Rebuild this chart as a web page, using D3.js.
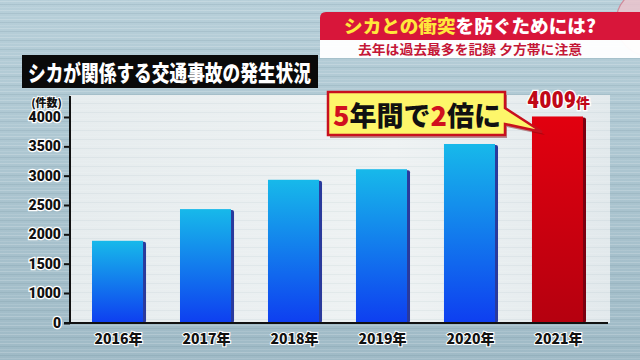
<!DOCTYPE html>
<html>
<head>
<meta charset="utf-8">
<script src="https://cdn.jsdelivr.net/npm/d3@7"></script>
<style>
  body { margin: 0; background: #a9c3ce; }
  svg { display: block; font-family: "Noto Sans CJK JP", "Noto Sans", sans-serif; }
</style>
</head>
<body>
<svg id="chart" width="640" height="360"></svg>
<script>
// data
const years = ["2016年", "2017年", "2018年", "2019年", "2020年", "2021年"];
const counts = [1890, 2430, 2930, 3110, 3540, 4009];
const tickValues = [0, 1000, 1500, 2000, 2500, 3000, 3500, 4000];

const W = 640, H = 360;
const svg = d3.select("#chart");
const defs = svg.append("defs");

// ---- background
const bgGrad = defs.append("linearGradient").attr("id", "bgGrad").attr("x1", 0).attr("y1", 0).attr("x2", 0).attr("y2", 1);
bgGrad.append("stop").attr("offset", "0%").attr("stop-color", "#b7cfd9");
bgGrad.append("stop").attr("offset", "100%").attr("stop-color", "#9fbac6");
svg.append("rect").attr("width", W).attr("height", H).attr("fill", "url(#bgGrad)");

// streaky texture
const streak = defs.append("pattern").attr("id", "streak").attr("patternUnits", "userSpaceOnUse")
  .attr("width", 640).attr("height", 9);
streak.append("rect").attr("y", 1).attr("width", 640).attr("height", 1).attr("fill", "#ffffff").attr("opacity", 0.18);
streak.append("rect").attr("y", 4).attr("width", 640).attr("height", 1).attr("fill", "#5d7e8c").attr("opacity", 0.15);
streak.append("rect").attr("y", 7).attr("width", 640).attr("height", 1).attr("fill", "#ffffff").attr("opacity", 0.1);
svg.append("rect").attr("width", W).attr("height", H).attr("fill", "url(#streak)");

// plot panel (whitish)
const panelGrad = defs.append("linearGradient").attr("id", "panelGrad").attr("x1", 0).attr("y1", 0).attr("x2", 1).attr("y2", 0);
panelGrad.append("stop").attr("offset", "0%").attr("stop-color", "#e6ecee");
panelGrad.append("stop").attr("offset", "60%").attr("stop-color", "#eef2f3");
panelGrad.append("stop").attr("offset", "100%").attr("stop-color", "#e2e9ec");
svg.append("rect").attr("x", 70).attr("y", 95).attr("width", 540).attr("height", 228).attr("fill", "url(#panelGrad)");
svg.append("rect").attr("x", 70).attr("y", 95).attr("width", 540).attr("height", 228).attr("fill", "url(#streak)").attr("opacity", 0.5);

// ---- scales
const x = d3.scaleBand().domain(years).range([70, 605]).paddingInner(0.42).paddingOuter(0.25);
// axis in the picture skips 500: 0 sits one step under 1000
const y = d3.scaleLinear().domain([0, 1000, 4000]).range([323, 293, 117]);

// ---- bar gradients
const blueGrad = defs.append("linearGradient").attr("id", "blueGrad").attr("x1", 0).attr("y1", 0).attr("x2", 0).attr("y2", 1);
blueGrad.append("stop").attr("offset", "0%").attr("stop-color", "#17b9ea");
blueGrad.append("stop").attr("offset", "100%").attr("stop-color", "#0e3ef0");
const redGrad = defs.append("linearGradient").attr("id", "redGrad").attr("x1", 0).attr("y1", 0).attr("x2", 0).attr("y2", 1);
redGrad.append("stop").attr("offset", "0%").attr("stop-color", "#e2000f");
redGrad.append("stop").attr("offset", "100%").attr("stop-color", "#b5000f");

const last = years.length - 1;
const bw = x.bandwidth();

// side shadow
svg.selectAll(".shade").data(counts).join("rect")
  .attr("class", "shade")
  .attr("x", (d, i) => x(years[i]) + bw - 3)
  .attr("y", d => y(d) + 1)
  .attr("width", 6).attr("height", d => y(0) - y(d) - 1)
  .attr("rx", 2)
  .attr("fill", (d, i) => i === last ? "#7a0010" : "#2a3a9c");

svg.selectAll(".bar").data(counts).join("rect")
  .attr("class", "bar")
  .attr("x", (d, i) => x(years[i]))
  .attr("y", d => y(d))
  .attr("width", bw)
  .attr("height", d => y(0) - y(d))
  .attr("fill", (d, i) => i === last ? "url(#redGrad)" : "url(#blueGrad)");

// ---- axes
const yAxis = svg.append("g").attr("transform", "translate(70,0)")
  .call(d3.axisLeft(y).tickValues(tickValues).tickSize(6).tickPadding(3).tickFormat(d3.format("d")));
yAxis.select(".domain").remove();
yAxis.selectAll(".tick line").attr("stroke", "#111").attr("stroke-width", 2);
yAxis.selectAll(".tick text")
  .attr("fill", "#111").attr("font-size", 14).attr("font-weight", 900)
  .attr("stroke", "#fff").attr("stroke-width", 2.5).attr("paint-order", "stroke")
  .attr("font-family", "Roboto, 'Noto Sans', sans-serif");

svg.append("line").attr("x1", 70).attr("x2", 70).attr("y1", 96).attr("y2", 324)
  .attr("stroke", "#111").attr("stroke-width", 2);
svg.append("line").attr("x1", 64).attr("x2", 608).attr("y1", 323).attr("y2", 323)
  .attr("stroke", "#111").attr("stroke-width", 2);

svg.append("text").attr("x", 62).attr("y", 107).attr("text-anchor", "end")
  .attr("font-size", 11).attr("font-weight", 900).attr("fill", "#111")
  .attr("stroke", "#fff").attr("stroke-width", 2).attr("paint-order", "stroke")
  .text("(件数)");

// x labels
svg.selectAll(".xlab").data(years).join("text")
  .attr("class", "xlab")
  .attr("x", d => x(d) + bw / 2 + 1)
  .attr("y", 344)
  .attr("text-anchor", "middle")
  .attr("font-size", 14).attr("font-weight", 900).attr("fill", "#111")
  .attr("stroke", "#fff").attr("stroke-width", 2).attr("paint-order", "stroke")
  .text(d => d);

// ---- value label on the last bar
const lastLab = svg.append("text")
  .attr("x", x(years[last]) + bw / 2 + 1).attr("y", 108)
  .attr("text-anchor", "middle")
  .attr("fill", "#c00818").attr("font-weight", 900)
  .attr("stroke", "#fff").attr("stroke-width", 2.5).attr("paint-order", "stroke");
lastLab.append("tspan").attr("font-size", 24).attr("font-family", "'Liberation Sans Narrow', 'Roboto Condensed', Roboto, sans-serif")
  .text(d3.format("d")(counts[last]));
lastLab.append("tspan").attr("font-size", 14).text("件");

// ---- callout "5年間で2倍に"
svg.append("path")
  .attr("d", "M330,95 H507 V111 L545,135 L507,127 V138 H330 Z")
  .attr("fill", "#7a0a10").attr("opacity", 0.45);
svg.append("path")
  .attr("d", "M328,92 H505 V108 L542,132 L505,124 V135 H328 Z")
  .attr("fill", "#fdf66a").attr("stroke", "#c8101e").attr("stroke-width", 2.5).attr("stroke-linejoin", "miter");
const call = svg.append("text").attr("x", 333).attr("y", 126)
  .attr("font-size", 27).attr("font-weight", 900);
call.append("tspan").attr("fill", "#d0101e").text("5");
call.append("tspan").attr("fill", "#111").text("年間で");
call.append("tspan").attr("fill", "#d0101e").text("2");
call.append("tspan").attr("fill", "#111").text("倍に");

// ---- chart title box
svg.append("rect").attr("x", 22).attr("y", 55).attr("width", 296).attr("height", 33).attr("fill", "#0a0a0a");
svg.append("text").attr("x", 28).attr("y", 81)
  .attr("font-size", 22).attr("font-weight", 900).attr("fill", "#fff")
  .attr("textLength", 283).attr("lengthAdjust", "spacingAndGlyphs")
  .text("シカが関係する交通事故の発生状況");

// ---- header banner
svg.append("circle").attr("cx", 650).attr("cy", 22).attr("r", 34)
  .attr("fill", "#eec3cc").attr("stroke", "#d87a8c").attr("stroke-width", 1.2).attr("opacity", 0.8);
svg.append("rect").attr("x", 320).attr("y", 40).attr("width", 330).attr("height", 18).attr("fill", "#ffffff").attr("opacity", 0.96);
svg.append("path").attr("d", "M326,12 H640 V40 H320 V18 Q320,12 326,12 Z").attr("fill", "#d8163a");
const head = svg.append("text").attr("x", 344).attr("y", 33)
  .attr("font-size", 18).attr("font-weight", 900)
  .attr("textLength", 252).attr("lengthAdjust", "spacingAndGlyphs");
head.append("tspan").attr("fill", "#ffe83c").text("シカとの衝突");
head.append("tspan").attr("fill", "#ffffff").text("を防ぐためには?");
svg.append("text").attr("x", 358).attr("y", 54)
  .attr("font-size", 13).attr("font-weight", 700).attr("fill", "#c41636")
  .attr("textLength", 224).attr("lengthAdjust", "spacingAndGlyphs")
  .text("去年は過去最多を記録 夕方帯に注意");
</script>
</body>
</html>
